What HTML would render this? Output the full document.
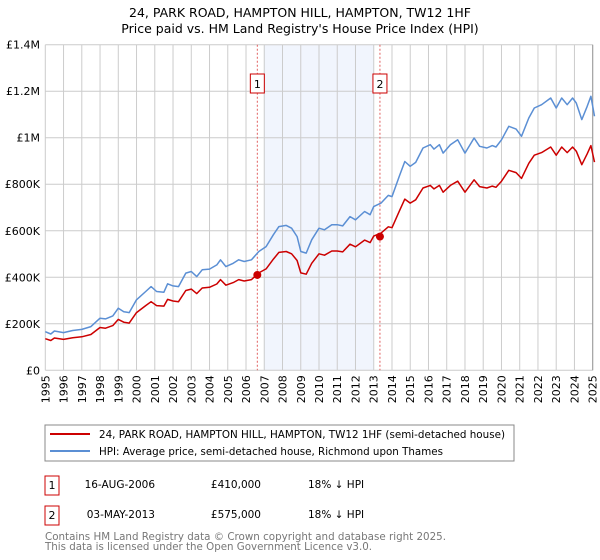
<!DOCTYPE html>
<html><head><meta charset="utf-8"><style>
html,body{margin:0;padding:0;background:#fff;}
svg{display:block;font-family:"DejaVu Sans","Liberation Sans",sans-serif;}
</style></head><body>
<svg id="chart" width="600" height="560" viewBox="0 0 600 560">
<text x="300" y="17" text-anchor="middle" font-size="12.5" fill="#000">24, PARK ROAD, HAMPTON HILL, HAMPTON, TW12 1HF</text>
<text x="300" y="33" text-anchor="middle" font-size="12.5" fill="#000">Price paid vs. HM Land Registry's House Price Index (HPI)</text>
<g id="plot"></g>
<g>
<rect x="45" y="425" width="469" height="36" fill="#fff" stroke="#888" stroke-width="1"/>
<line x1="50" y1="434" x2="90" y2="434" stroke="#cc0000" stroke-width="2"/>
<text x="99" y="438" font-size="10.5" textLength="406" lengthAdjust="spacingAndGlyphs">24, PARK ROAD, HAMPTON HILL, HAMPTON, TW12 1HF (semi-detached house)</text>
<line x1="50" y1="451" x2="90" y2="451" stroke="#5b8fd4" stroke-width="2"/>
<text x="99" y="455" font-size="10.5" textLength="344" lengthAdjust="spacingAndGlyphs">HPI: Average price, semi-detached house, Richmond upon Thames</text>
</g>
<g>
<rect x="45" y="476" width="14" height="19" fill="#fff" stroke="#cc0000"/>
<text x="52" y="489" font-size="11" text-anchor="middle">1</text>
<text x="155" y="488" font-size="10.5" text-anchor="end">16-AUG-2006</text>
<text x="261" y="488" font-size="10.5" text-anchor="end">£410,000</text>
<text x="308" y="488" font-size="10.5">18% ↓ HPI</text>
</g>
<g>
<rect x="45" y="506" width="14" height="19" fill="#fff" stroke="#cc0000"/>
<text x="52" y="519" font-size="11" text-anchor="middle">2</text>
<text x="155" y="518" font-size="10.5" text-anchor="end">03-MAY-2013</text>
<text x="261" y="518" font-size="10.5" text-anchor="end">£575,000</text>
<text x="308" y="518" font-size="10.5">18% ↓ HPI</text>
</g>
<text x="45" y="540" font-size="10.5" fill="#777" textLength="401" lengthAdjust="spacingAndGlyphs">Contains HM Land Registry data © Crown copyright and database right 2025.</text>
<text x="45" y="550" font-size="10.5" fill="#777" textLength="327" lengthAdjust="spacingAndGlyphs">This data is licensed under the Open Government Licence v3.0.</text>
</svg>
<script>
const hpiYears = [1995.0,1995.3,1995.5,1996,1996.5,1997,1997.5,1998,1998.3,1998.7,1999,1999.3,1999.6,2000,2000.5,2000.8,2001.1,2001.5,2001.7,2002,2002.3,2002.7,2003,2003.3,2003.6,2004,2004.4,2004.6,2004.9,2005.3,2005.6,2005.9,2006.3,2006.7,2007.1,2007.5,2007.8,2008.2,2008.5,2008.8,2009.0,2009.3,2009.6,2010.0,2010.3,2010.7,2011.0,2011.3,2011.7,2012.0,2012.5,2012.8,2013.0,2013.4,2013.8,2014.0,2014.4,2014.7,2015.0,2015.3,2015.7,2016.1,2016.3,2016.6,2016.8,2017.2,2017.6,2018.0,2018.5,2018.8,2019.2,2019.5,2019.7,2020.0,2020.4,2020.8,2021.1,2021.5,2021.8,2022.2,2022.7,2023.0,2023.3,2023.6,2023.9,2024.1,2024.4,2024.7,2024.9,2025.1];
const hpiValues = [166,156,169,162,171,176,188,224,221,234,267,252,248,303,339,360,339,336,372,363,360,418,425,403,432,435,453,475,446,460,475,468,475,511,532,583,618,623,611,575,511,504,561,611,604,626,626,621,661,647,683,669,704,719,752,747,834,898,877,894,956,970,951,970,934,970,991,934,999,963,956,966,960,991,1049,1037,1006,1085,1128,1142,1171,1128,1171,1142,1171,1149,1078,1135,1178,1092];
const priceValues = [136,128,139,133,140,144,154,184,181,192,219,207,203,248,278,295,278,276,305,298,295,343,349,330,354,357,371,390,366,377,390,384,390,419,436,478,507,511,501,472,419,413,460,501,495,513,513,509,542,531,560,549,577,590,617,613,684,736,719,733,784,795,780,795,766,795,813,766,819,790,784,792,787,813,860,850,825,890,925,936,960,925,960,936,960,942,884,931,966,895];
const saleYears = [2006.62, 2013.34];
const saleValues = [410, 575];
const yTicks = [0,200,400,600,800,1000,1200,1400];
const yTickLabels = ["£0","£200K","£400K","£600K","£800K","£1M","£1.2M","£1.4M"];
const xTicks = [1995,1996,1997,1998,1999,2000,2001,2002,2003,2004,2005,2006,2007,2008,2009,2010,2011,2012,2013,2014,2015,2016,2017,2018,2019,2020,2021,2022,2023,2024,2025];

const NS="http://www.w3.org/2000/svg";
const L=45.3,R=592.7,T=44.7,B=370.3;
const xs=y=>L+(y-1995)/30*(R-L);
const ys=v=>B-v/1400*(B-T);
const plot=document.getElementById('plot');
function mk(tag,attrs,parent){const e=document.createElementNS(NS,tag);for(const k in attrs)e.setAttribute(k,attrs[k]);(parent||plot).appendChild(e);return e;}

const bg=mk('rect',{x:L,y:T,width:R-L,height:B-T,fill:'#fff'});


const shade=mk('rect',{x:xs(2007),y:T,width:xs(2013)-xs(2007),height:B-T,fill:'#eef3fc',opacity:0.8});



xTicks.forEach(t=>{
  const g=mk('line',{x1:xs(t),x2:xs(t),y1:T,y2:B,stroke:'#ccc','stroke-width':1});
  
  
  const tx=mk('text',{x:0,y:0,'font-size':11,'text-anchor':'end',transform:`translate(${xs(t)+4},${B+5}) rotate(-90)`});
  tx.textContent=t;
  
  
});
yTicks.forEach((t,i)=>{
  const g=mk('line',{x1:L,x2:R,y1:ys(t),y2:ys(t),stroke:'#ccc','stroke-width':1});
  
  
  const tx=mk('text',{x:40,y:ys(t)+4,'font-size':11,'text-anchor':'end'});
  tx.textContent=yTickLabels[i];
  
  
});
const rAxis=mk('line',{x1:R,x2:R,y1:T,y2:B,stroke:'#999','stroke-width':1});



const labels=['1','2'];
saleYears.forEach((y,i)=>{
  const d=mk('line',{x1:xs(y),x2:xs(y),y1:T,y2:B,stroke:'#e06060','stroke-width':1,'stroke-dasharray':'2,2'});
  
  
  const b=mk('rect',{x:xs(y)-7,y:74,width:14,height:19,fill:'#fff',stroke:'#cc0000'});
  
  
  const t=mk('text',{x:xs(y),y:88,'font-size':11,'text-anchor':'middle'});
  t.textContent=labels[i];
  
  
});

const pts=v=>hpiYears.map((y,i)=>xs(y).toFixed(1)+','+ys(v[i]).toFixed(1)).join(' ');
const hl=mk('polyline',{points:pts(hpiValues),fill:'none',stroke:'#5b8fd4','stroke-width':1.5,'stroke-linejoin':'round'});


const pl=mk('polyline',{points:pts(priceValues),fill:'none',stroke:'#cc0000','stroke-width':1.5,'stroke-linejoin':'round'});


saleYears.forEach((y,i)=>{
  const c=mk('circle',{cx:xs(y),cy:ys(saleValues[i]),r:4,fill:'#cc0000'});
  
  
});
</script>
</body></html>
